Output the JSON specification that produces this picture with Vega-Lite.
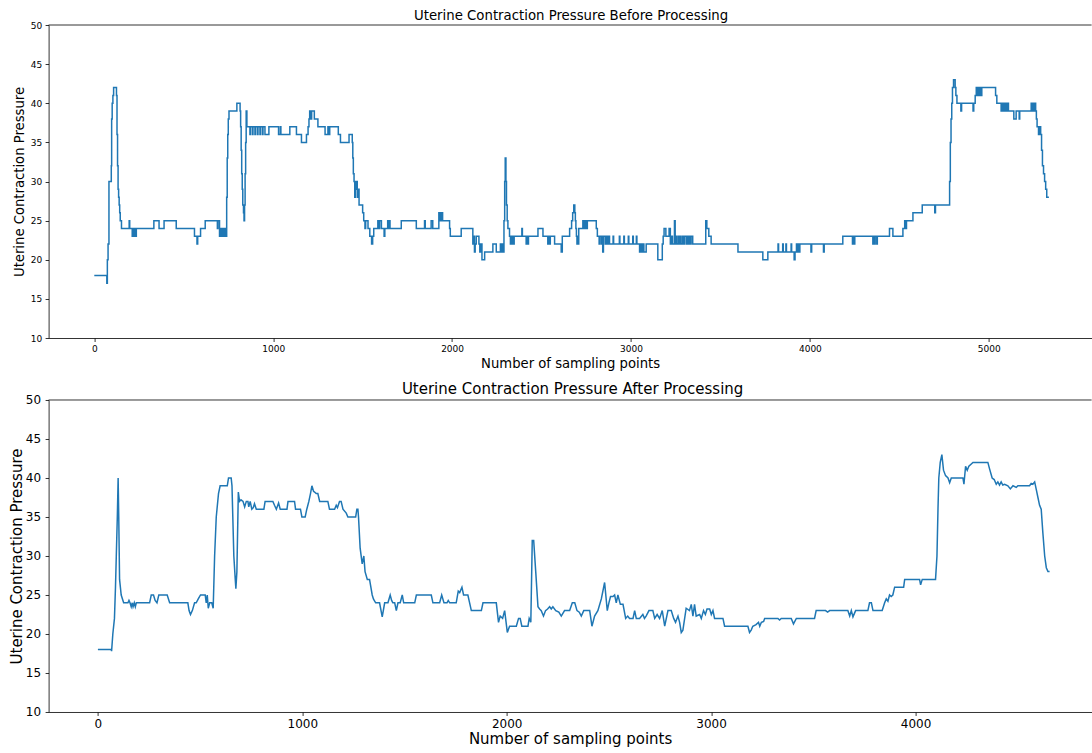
{
  "$schema": "https://vega.github.io/schema/vega-lite/v6.json",
  "padding": {"left": 8.6, "top": 9, "right": 0, "bottom": 0},
  "autosize": {"type": "pad"},
  "background": "white",
  "spacing": 12,
  "config": {
    "font": "DejaVu Sans",
    "view": {"stroke": null},
    "axis": {"domain": true, "domainColor": "#000", "domainWidth": 0.8, "grid": false, "tickColor": "#000", "tickSize": 3.5, "tickWidth": 0.8, "labelColor": "#000", "titleColor": "#000", "labelFont": "DejaVu Sans", "titleFont": "DejaVu Sans", "titleFontWeight": "normal", "labelOverlap": false, "labelFlush": false, "labelBound": false},
    "title": {"font": "DejaVu Sans", "fontWeight": "normal", "color": "#000", "anchor": "middle"}
  },
  "datasets": {
    "before": [
      {"x":0,"y":18},{"x":70,"y":17},{"x":73,"y":20},{"x":77,"y":22},{"x":82,"y":30},{"x":95,"y":32},{"x":97,"y":38},{"x":100,"y":40},{"x":104,"y":41},{"x":108,"y":42},{"x":124,"y":41},{"x":127,"y":36},{"x":130,"y":32},{"x":133,"y":29},{"x":136,"y":28},{"x":139,"y":27},{"x":142,"y":26},{"x":145,"y":25},{"x":152,"y":24},
      {"x":195,"y":25},{"x":198,"y":24},{"x":212,"y":23},{"x":215,"y":24},{"x":222,"y":23},{"x":225,"y":24},{"x":232,"y":23},{"x":235,"y":24},
      {"x":333,"y":25},{"x":362,"y":24},{"x":390,"y":25},{"x":458,"y":24},{"x":560,"y":23},{"x":574,"y":22},{"x":578,"y":23},{"x":594,"y":24},{"x":620,"y":25},{"x":688,"y":24},{"x":691,"y":25},{"x":700,"y":23},{"x":708,"y":24},{"x":712,"y":23},{"x":720,"y":24},{"x":726,"y":23},{"x":732,"y":24},{"x":735,"y":23},
      {"x":740,"y":28},{"x":743,"y":33},{"x":746,"y":36},{"x":749,"y":38},{"x":753,"y":39},{"x":797,"y":40},{"x":815,"y":39},{"x":818,"y":37},{"x":821,"y":34},{"x":824,"y":31},{"x":827,"y":29},{"x":830,"y":27},{"x":834,"y":26},{"x":837,"y":25},{"x":840,"y":27},{"x":843,"y":31},{"x":846,"y":35},{"x":849,"y":39},{"x":853,"y":37},
      {"x":870,"y":36},{"x":873,"y":37},{"x":884,"y":36},{"x":887,"y":37},{"x":898,"y":36},{"x":901,"y":37},{"x":912,"y":36},{"x":915,"y":37},{"x":926,"y":36},{"x":929,"y":37},{"x":940,"y":36},{"x":943,"y":37},{"x":954,"y":36},
      {"x":976,"y":37},{"x":1030,"y":36},{"x":1040,"y":37},{"x":1043,"y":36},{"x":1093,"y":37},{"x":1130,"y":36},{"x":1158,"y":35},{"x":1186,"y":36},{"x":1195,"y":37},{"x":1200,"y":38},{"x":1204,"y":39},{"x":1212,"y":38},{"x":1215,"y":39},{"x":1230,"y":38},{"x":1250,"y":37},{"x":1290,"y":36},{"x":1306,"y":37},{"x":1310,"y":36},{"x":1316,"y":37},{"x":1364,"y":36},{"x":1376,"y":35},{"x":1424,"y":36},{"x":1442,"y":35},{"x":1445,"y":33},{"x":1448,"y":31},{"x":1452,"y":30},{"x":1456,"y":28},{"x":1459,"y":30},{"x":1463,"y":29},{"x":1466,"y":30},{"x":1470,"y":28},{"x":1474,"y":29},{"x":1480,"y":27},{"x":1500,"y":26},{"x":1506,"y":25},{"x":1513,"y":24},{"x":1517,"y":25},{"x":1530,"y":24},{"x":1540,"y":23},{"x":1550,"y":22},{"x":1556,"y":23},{"x":1562,"y":24},{"x":1585,"y":25},{"x":1592,"y":24},
      {"x":1595,"y":25},{"x":1605,"y":24},{"x":1620,"y":23},{"x":1624,"y":24},{"x":1640,"y":25},{"x":1643,"y":24},{"x":1650,"y":25},{"x":1653,"y":24},{"x":1716,"y":25},{"x":1800,"y":24},{"x":1846,"y":25},{"x":1850,"y":24},{"x":1883,"y":25},{"x":1892,"y":24},{"x":1926,"y":26},{"x":1929,"y":25},{"x":1936,"y":26},{"x":1939,"y":25},{"x":1944,"y":26},{"x":1947,"y":25},{"x":1986,"y":24},{"x":1990,"y":23},{"x":2051,"y":24},{"x":2116,"y":22},{"x":2120,"y":23},{"x":2125,"y":21},{"x":2129,"y":22},{"x":2135,"y":23},{"x":2150,"y":22},{"x":2155,"y":21},{"x":2160,"y":22},{"x":2167,"y":20},{"x":2182,"y":21},{"x":2228,"y":22},{"x":2247,"y":21},{"x":2270,"y":22},{"x":2274,"y":21},{"x":2282,"y":22},{"x":2285,"y":21},{"x":2290,"y":25},{"x":2294,"y":30},{"x":2297,"y":33},{"x":2301,"y":30},{"x":2304,"y":27},{"x":2308,"y":25},{"x":2312,"y":24},{"x":2321,"y":23},{"x":2326,"y":22},{"x":2329,"y":23},{"x":2336,"y":22},{"x":2339,"y":23},{"x":2344,"y":22},{"x":2347,"y":23},{"x":2390,"y":24},{"x":2393,"y":23},{"x":2414,"y":22},{"x":2417,"y":23},{"x":2424,"y":22},{"x":2427,"y":23},{"x":2480,"y":24},{"x":2508,"y":23},{"x":2535,"y":22},{"x":2538,"y":23},{"x":2546,"y":22},{"x":2549,"y":23},{"x":2573,"y":22},{"x":2610,"y":21},{"x":2616,"y":23},{"x":2657,"y":24},{"x":2668,"y":25},{"x":2674,"y":26},{"x":2680,"y":27},{"x":2686,"y":26},{"x":2689,"y":25},{"x":2692,"y":24},{"x":2695,"y":23},{"x":2698,"y":22},{"x":2701,"y":23},{"x":2704,"y":22},{"x":2708,"y":24},{"x":2731,"y":25},{"x":2736,"y":24},{"x":2744,"y":25},{"x":2750,"y":24},{"x":2756,"y":25},{"x":2806,"y":24},{"x":2812,"y":23},{"x":2822,"y":22},{"x":2825,"y":23},{"x":2834,"y":22},{"x":2837,"y":23},{"x":2842,"y":21},{"x":2846,"y":23},{"x":2856,"y":22},{"x":2862,"y":23},{"x":2870,"y":22},{"x":2873,"y":23},{"x":2880,"y":22},{"x":2900,"y":23},{"x":2903,"y":22},{"x":2935,"y":23},{"x":2938,"y":22},{"x":2960,"y":23},{"x":2963,"y":22},{"x":2985,"y":23},{"x":2988,"y":22},{"x":3010,"y":23},{"x":3013,"y":22},{"x":3030,"y":23},{"x":3033,"y":22},{"x":3048,"y":21},{"x":3052,"y":22},{"x":3060,"y":21},{"x":3064,"y":22},{"x":3072,"y":21},{"x":3085,"y":22},{"x":3150,"y":20},{"x":3175,"y":22},{"x":3180,"y":23},{"x":3185,"y":24},{"x":3195,"y":23},{"x":3213,"y":24},{"x":3220,"y":22},{"x":3228,"y":23},{"x":3232,"y":22},{"x":3243,"y":25},{"x":3247,"y":22},{"x":3252,"y":23},{"x":3255,"y":22},{"x":3264,"y":23},{"x":3268,"y":22},{"x":3276,"y":23},{"x":3279,"y":22},{"x":3288,"y":23},{"x":3291,"y":22},{"x":3298,"y":23},{"x":3308,"y":22},{"x":3312,"y":23},{"x":3320,"y":22},{"x":3325,"y":23},{"x":3328,"y":22},{"x":3336,"y":23},{"x":3345,"y":22},{"x":3418,"y":25},{"x":3424,"y":24},{"x":3435,"y":23},{"x":3448,"y":22},{"x":3598,"y":21},{"x":3737,"y":20},{"x":3765,"y":21},{"x":3822,"y":22},{"x":3825,"y":21},{"x":3848,"y":22},{"x":3851,"y":21},{"x":3866,"y":22},{"x":3869,"y":21},{"x":3895,"y":22},{"x":3898,"y":21},{"x":3912,"y":20},{"x":3917,"y":21},{"x":3925,"y":22},{"x":3928,"y":21},{"x":3935,"y":22},{"x":3938,"y":21},{"x":3944,"y":22},{"x":4006,"y":21},{"x":4010,"y":22},{"x":4076,"y":21},{"x":4080,"y":22},{"x":4184,"y":23},{"x":4238,"y":22},{"x":4241,"y":23},{"x":4248,"y":22},{"x":4251,"y":23},{"x":4352,"y":22},{"x":4355,"y":23},{"x":4362,"y":22},{"x":4365,"y":23},{"x":4374,"y":22},{"x":4377,"y":23},{"x":4445,"y":24},{"x":4464,"y":23},{"x":4520,"y":24},{"x":4530,"y":25},{"x":4533,"y":24},{"x":4540,"y":25},{"x":4576,"y":26},{"x":4628,"y":27},{"x":4698,"y":26},{"x":4702,"y":27},{"x":4781,"y":30},{"x":4785,"y":35},{"x":4789,"y":38},{"x":4793,"y":40},{"x":4797,"y":42},{"x":4803,"y":43},{"x":4812,"y":42},{"x":4816,"y":41},{"x":4822,"y":40},{"x":4844,"y":39},{"x":4848,"y":40},{"x":4912,"y":39},{"x":4916,"y":40},{"x":4924,"y":41},{"x":4930,"y":42},{"x":4935,"y":41},{"x":4937,"y":42},{"x":4943,"y":41},{"x":4945,"y":42},{"x":4951,"y":41},{"x":4953,"y":42},{"x":4959,"y":41},{"x":4961,"y":42},{"x":5038,"y":41},{"x":5045,"y":40},{"x":5069,"y":39},{"x":5071,"y":40},{"x":5077,"y":39},{"x":5079,"y":40},{"x":5085,"y":39},{"x":5087,"y":40},{"x":5093,"y":39},{"x":5095,"y":40},{"x":5101,"y":39},{"x":5103,"y":40},{"x":5110,"y":39},{"x":5140,"y":38},{"x":5153,"y":39},{"x":5170,"y":38},{"x":5173,"y":39},{"x":5237,"y":40},{"x":5240,"y":39},{"x":5245,"y":40},{"x":5248,"y":39},{"x":5254,"y":40},{"x":5262,"y":39},{"x":5266,"y":38},{"x":5270,"y":37},{"x":5278,"y":36},{"x":5282,"y":37},{"x":5290,"y":36},{"x":5295,"y":34},{"x":5300,"y":32},{"x":5306,"y":31},{"x":5312,"y":30},{"x":5318,"y":29},{"x":5324,"y":28},{"x":5336,"y":28}
    ],
    "after": [
      {"x":0,"y":18},{"x":65,"y":18},{"x":67,"y":17.8},{"x":73,"y":20},{"x":81,"y":22},{"x":86,"y":26},{"x":90,"y":30},{"x":95,"y":35},{"x":99,"y":40},{"x":102,"y":35},{"x":106,"y":27},{"x":114,"y":25},{"x":126,"y":24},{"x":147,"y":24},{"x":152,"y":24.3},{"x":157,"y":24},{"x":163,"y":23.5},{"x":168,"y":24},{"x":172,"y":23.5},{"x":178,"y":24},{"x":183,"y":23.5},{"x":188,"y":24},{"x":253,"y":24},{"x":261,"y":25},{"x":272,"y":25},{"x":280,"y":24.3},{"x":289,"y":24},{"x":298,"y":25},{"x":339,"y":25},{"x":351,"y":24},{"x":440,"y":24},{"x":446,"y":23},{"x":453,"y":22.5},{"x":462,"y":23},{"x":473,"y":24},{"x":481,"y":24},{"x":491,"y":24.5},{"x":502,"y":25},{"x":525,"y":25},{"x":530,"y":24},{"x":535,"y":25},{"x":540,"y":23.3},{"x":547,"y":24},{"x":557,"y":24},{"x":564,"y":23.3},{"x":571,"y":30},{"x":579,"y":35},{"x":590,"y":38},{"x":598,"y":39},{"x":633,"y":39},{"x":639,"y":40},{"x":652,"y":40},{"x":656,"y":39},{"x":660,"y":35},{"x":665,"y":30},{"x":672,"y":27},{"x":675,"y":25.8},{"x":680,"y":28},{"x":687,"y":38.2},{"x":693,"y":37},{"x":700,"y":37.2},{"x":710,"y":37},{"x":718,"y":36.3},{"x":726,"y":37},{"x":734,"y":37},{"x":738,"y":36.3},{"x":745,"y":37},{"x":753,"y":36},{"x":760,"y":36.2},{"x":766,"y":36.7},{"x":775,"y":36},{"x":812,"y":36},{"x":818,"y":37},{"x":856,"y":37},{"x":864,"y":36.5},{"x":873,"y":36},{"x":884,"y":36.8},{"x":892,"y":36},{"x":925,"y":36},{"x":930,"y":37},{"x":962,"y":37},{"x":967,"y":36},{"x":991,"y":36},{"x":998,"y":35},{"x":1014,"y":35},{"x":1022,"y":36},{"x":1032,"y":37},{"x":1040,"y":38},{"x":1047,"y":39},{"x":1055,"y":38.3},{"x":1060,"y":38.2},{"x":1068,"y":38},{"x":1076,"y":38},{"x":1085,"y":37},{"x":1125,"y":37},{"x":1133,"y":36},{"x":1158,"y":36},{"x":1166,"y":36.5},{"x":1172,"y":36.2},{"x":1182,"y":37},{"x":1190,"y":37},{"x":1199,"y":36},{"x":1215,"y":35.5},{"x":1223,"y":35},{"x":1261,"y":35},{"x":1267,"y":36},{"x":1272,"y":36},{"x":1275,"y":35},{"x":1283,"y":31},{"x":1293,"y":29},{"x":1301,"y":30},{"x":1307,"y":28},{"x":1318,"y":27},{"x":1329,"y":27},{"x":1342,"y":25},{"x":1348,"y":24.5},{"x":1354,"y":24.2},{"x":1359,"y":24},{"x":1370,"y":24},{"x":1378,"y":24},{"x":1391,"y":22.2},{"x":1403,"y":24},{"x":1419,"y":24},{"x":1430,"y":25},{"x":1437,"y":24.3},{"x":1443,"y":24},{"x":1452,"y":24},{"x":1460,"y":23},{"x":1468,"y":24},{"x":1479,"y":24},{"x":1489,"y":25},{"x":1496,"y":24},{"x":1550,"y":24},{"x":1558,"y":25},{"x":1631,"y":25},{"x":1639,"y":24},{"x":1672,"y":24},{"x":1682,"y":25},{"x":1693,"y":24},{"x":1708,"y":24},{"x":1714,"y":24.3},{"x":1721,"y":24},{"x":1753,"y":24},{"x":1763,"y":25.5},{"x":1770,"y":25.3},{"x":1781,"y":26},{"x":1789,"y":25},{"x":1810,"y":25},{"x":1827,"y":23},{"x":1876,"y":23},{"x":1884,"y":24},{"x":1949,"y":24},{"x":1960,"y":21.5},{"x":1968,"y":22.3},{"x":1980,"y":22},{"x":1990,"y":23},{"x":2003,"y":20.2},{"x":2014,"y":21},{"x":2047,"y":21},{"x":2058,"y":22},{"x":2066,"y":22},{"x":2074,"y":21},{"x":2104,"y":21},{"x":2110,"y":22},{"x":2118,"y":21.5},{"x":2125,"y":32},{"x":2132,"y":32},{"x":2142,"y":28},{"x":2153,"y":23.5},{"x":2161,"y":23.2},{"x":2169,"y":23},{"x":2180,"y":22.3},{"x":2190,"y":23},{"x":2200,"y":23.2},{"x":2210,"y":23.5},{"x":2218,"y":23.2},{"x":2226,"y":23.5},{"x":2240,"y":23},{"x":2255,"y":22.8},{"x":2267,"y":22.3},{"x":2283,"y":23},{"x":2308,"y":23},{"x":2321,"y":24},{"x":2333,"y":24},{"x":2344,"y":23},{"x":2355,"y":22.8},{"x":2365,"y":22.3},{"x":2377,"y":23},{"x":2389,"y":23},{"x":2406,"y":23},{"x":2417,"y":21},{"x":2430,"y":22.3},{"x":2446,"y":23},{"x":2463,"y":24.5},{"x":2479,"y":26.6},{"x":2492,"y":23},{"x":2500,"y":24},{"x":2508,"y":24.8},{"x":2520,"y":24.8},{"x":2528,"y":25},{"x":2536,"y":24},{"x":2544,"y":25},{"x":2556,"y":23.8},{"x":2569,"y":23.8},{"x":2582,"y":22},{"x":2592,"y":22.3},{"x":2601,"y":22},{"x":2618,"y":22},{"x":2626,"y":23},{"x":2634,"y":22},{"x":2650,"y":22},{"x":2666,"y":22.5},{"x":2674,"y":22},{"x":2682,"y":22.3},{"x":2696,"y":23},{"x":2715,"y":23},{"x":2724,"y":22},{"x":2736,"y":22.5},{"x":2748,"y":22},{"x":2761,"y":23},{"x":2773,"y":21},{"x":2789,"y":23},{"x":2805,"y":23},{"x":2817,"y":22},{"x":2826,"y":21.5},{"x":2838,"y":22.3},{"x":2846,"y":21.5},{"x":2854,"y":20.2},{"x":2862,"y":20.5},{"x":2878,"y":23.3},{"x":2894,"y":23},{"x":2903,"y":23.8},{"x":2911,"y":22.3},{"x":2919,"y":23.8},{"x":2927,"y":22.3},{"x":2944,"y":22.5},{"x":2952,"y":22},{"x":2963,"y":23},{"x":2972,"y":22.5},{"x":2980,"y":23.2},{"x":2993,"y":23.2},{"x":3001,"y":22.5},{"x":3009,"y":23},{"x":3017,"y":22},{"x":3058,"y":22},{"x":3066,"y":21},{"x":3180,"y":21},{"x":3188,"y":20.2},{"x":3196,"y":20.5},{"x":3204,"y":21},{"x":3220,"y":21.2},{"x":3232,"y":21.5},{"x":3238,"y":21},{"x":3246,"y":21.5},{"x":3257,"y":21.6},{"x":3262,"y":22},{"x":3327,"y":22},{"x":3335,"y":21.8},{"x":3343,"y":22},{"x":3392,"y":22},{"x":3403,"y":21.3},{"x":3417,"y":22},{"x":3506,"y":22},{"x":3514,"y":23},{"x":3560,"y":23},{"x":3570,"y":22.8},{"x":3580,"y":23},{"x":3669,"y":23},{"x":3678,"y":22.3},{"x":3686,"y":23},{"x":3694,"y":22.2},{"x":3707,"y":23},{"x":3767,"y":23},{"x":3775,"y":24},{"x":3784,"y":24},{"x":3792,"y":23},{"x":3837,"y":23},{"x":3849,"y":24},{"x":3857,"y":24.5},{"x":3865,"y":24.2},{"x":3873,"y":25},{"x":3881,"y":24.8},{"x":3889,"y":25},{"x":3898,"y":26},{"x":3942,"y":26},{"x":3947,"y":27},{"x":4020,"y":27},{"x":4025,"y":26.3},{"x":4033,"y":27},{"x":4098,"y":27},{"x":4105,"y":30},{"x":4110,"y":36},{"x":4114,"y":40},{"x":4121,"y":42},{"x":4129,"y":43},{"x":4137,"y":41},{"x":4147,"y":40.3},{"x":4159,"y":40},{"x":4167,"y":39.4},{"x":4175,"y":40},{"x":4232,"y":40},{"x":4237,"y":39.2},{"x":4245,"y":41.5},{"x":4253,"y":41},{"x":4261,"y":41.5},{"x":4273,"y":41.8},{"x":4281,"y":42},{"x":4354,"y":42},{"x":4362,"y":41.2},{"x":4375,"y":40},{"x":4385,"y":39.8},{"x":4395,"y":39.2},{"x":4403,"y":39.5},{"x":4411,"y":39.1},{"x":4419,"y":39.5},{"x":4427,"y":39.1},{"x":4436,"y":39.2},{"x":4452,"y":39},{"x":4464,"y":38.6},{"x":4477,"y":39},{"x":4493,"y":38.8},{"x":4501,"y":39},{"x":4558,"y":39},{"x":4566,"y":39.3},{"x":4574,"y":39.2},{"x":4583,"y":39.5},{"x":4591,"y":38.5},{"x":4599,"y":37.5},{"x":4607,"y":36.5},{"x":4615,"y":36},{"x":4623,"y":33},{"x":4632,"y":30},{"x":4640,"y":28.5},{"x":4648,"y":28},{"x":4656,"y":28}
    ]
  },
  "vconcat": [
    {
      "title": {"text": "Uterine Contraction Pressure Before Processing", "fontSize": 13.3, "offset": -1.3, "dx": 1},
      "width": 1043,
      "height": 313,
      "layer": [
        {
          "data": {"name": "before"},
          "mark": {"type": "line", "interpolate": "step-after", "color": "#1f77b4", "strokeWidth": 1.5, "clip": true},
          "encoding": {
            "x": {"field": "x", "type": "quantitative", "scale": {"domain": [-255.4, 5574.7], "nice": false, "zero": false},
                  "axis": {"values": [0, 1000, 2000, 3000, 4000, 5000], "format": "d", "title": "Number of sampling points", "labelFontSize": 9, "titleFontSize": 13.2, "labelPadding": 3, "titlePadding": 4, "labelOverlap": false}},
            "y": {"field": "y", "type": "quantitative", "scale": {"domain": [10, 50], "nice": false, "zero": false},
                  "axis": {"values": [10, 15, 20, 25, 30, 35, 40, 45, 50], "tickCount": 9, "format": "d", "title": "Uterine Contraction Pressure", "labelFontSize": 9, "titleFontSize": 13.2, "labelPadding": 3.5, "titlePadding": 4, "labelOverlap": false}}
          }
        },
        {
          "data": {"values": [{}]},
          "mark": {"type": "rule", "color": "#000", "strokeWidth": 0.8},
          "encoding": {"y": {"datum": 50, "type": "quantitative",
                  "axis": {"values": [10, 15, 20, 25, 30, 35, 40, 45, 50], "tickCount": 9, "format": "d", "title": "Uterine Contraction Pressure", "labelFontSize": 9, "titleFontSize": 13.2, "labelPadding": 3.5, "titlePadding": 4, "labelOverlap": false}}}
        }
      ]
    },
    {
      "title": {"text": "Uterine Contraction Pressure After Processing", "fontSize": 15, "offset": -3, "dx": 2.5},
      "width": 1043,
      "height": 312,
      "layer": [
        {
          "data": {"name": "after"},
          "mark": {"type": "line", "color": "#1f77b4", "strokeWidth": 1.5, "clip": true},
          "encoding": {
            "x": {"field": "x", "type": "quantitative", "scale": {"domain": [-241.2, 4861.5], "nice": false, "zero": false},
                  "axis": {"values": [0, 1000, 2000, 3000, 4000], "format": "d", "title": "Number of sampling points", "labelFontSize": 12, "titleFontSize": 15, "labelPadding": 3, "titlePadding": 2, "labelOverlap": false}},
            "y": {"field": "y", "type": "quantitative", "scale": {"domain": [10, 50], "nice": false, "zero": false},
                  "axis": {"values": [10, 15, 20, 25, 30, 35, 40, 45, 50], "tickCount": 9, "format": "d", "title": "Uterine Contraction Pressure", "labelFontSize": 12, "titleFontSize": 15, "labelPadding": 4.5, "titlePadding": 0.8, "labelOverlap": false}}
          }
        },
        {
          "data": {"values": [{}]},
          "mark": {"type": "rule", "color": "#000", "strokeWidth": 0.8},
          "encoding": {"y": {"datum": 50, "type": "quantitative",
                  "axis": {"values": [10, 15, 20, 25, 30, 35, 40, 45, 50], "tickCount": 9, "format": "d", "title": "Uterine Contraction Pressure", "labelFontSize": 12, "titleFontSize": 15, "labelPadding": 4.5, "titlePadding": 0.8, "labelOverlap": false}}}
        }
      ]
    }
  ]
}
